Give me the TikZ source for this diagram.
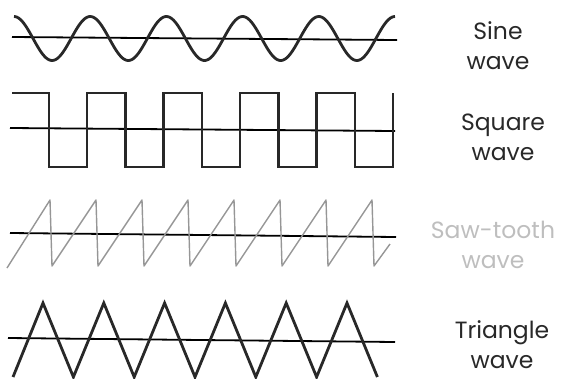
\documentclass[tikz,border=0pt]{standalone}
\usepackage{fontspec}
\setmainfont{Poppins}
\definecolor{waveBlack}{RGB}{40, 40, 40}
\definecolor{sawGray}{RGB}{150, 150, 150}
\definecolor{labelGray}{RGB}{190, 190, 190}

\begin{document}
\begin{tikzpicture}[
  x=1pt, y=-1pt,
  axis/.style={draw=black, line width=1.8pt},
  wave/.style={draw=waveBlack, line width=2.8pt, line join=miter},
  sawwave/.style={draw=sawGray, line width=1.4pt, line join=round},
  label/.style={align=center, font=\fontsize{23.5}{30}\selectfont, inner sep=0pt, text=waveBlack}
]
\useasboundingbox (0,0) rectangle (580,378);
\begin{scope}
\clip (0,0) rectangle (580,378);
% sine
\draw[axis] (12,37) -- (397,40);
\draw[wave] plot[domain=14:395, samples=240] (\x, {38.5 - 22*cos(4.7244*(\x-14))});
% square
\draw[axis] (10,128) -- (395,131);
\draw[wave] (12,93) \foreach \i in {0,...,4} {
  -- ({49+76.5*\i},93) -- ({49+76.5*\i},167) -- ({87+76.5*\i},167) -- ({87+76.5*\i},93)};
% saw-tooth
\draw[axis] (10,233) -- (396,237);
\draw[sawwave] (7,268) \foreach \i in {0,...,7} {
  -- ({50+46*\i},200) -- ({52+46*\i},266)} -- (390,244);
% triangle
\draw[axis] (8,338) -- (395,342);
\draw[wave] (13,377) \foreach \i in {0,...,5} {
  -- ({43+60.8*\i},303) -- ({73.4+60.8*\i},377)};
\end{scope}
% labels
\node[label] (sine) at (498,46) {Sine\\wave};
\node[label] (square) at (503,137) {Square\\wave};
\node[label, text=labelGray] (saw) at (493,245) {Saw-tooth\\wave};
\node[label] (triangle) at (502,345) {Triangle\\wave};
\end{tikzpicture}
\end{document}
